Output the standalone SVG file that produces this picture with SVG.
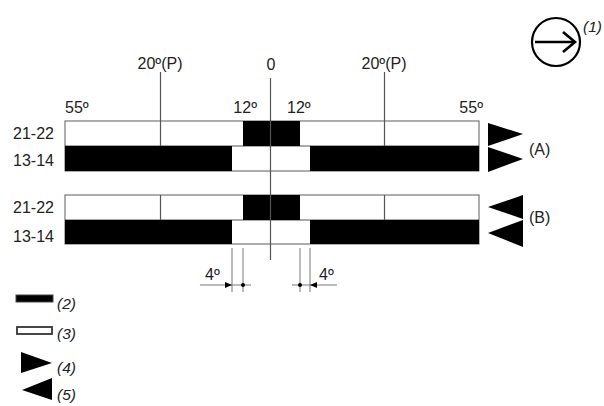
<svg xmlns="http://www.w3.org/2000/svg" width="604" height="406" viewBox="0 0 604 406">
<style>
text{font-family:"Liberation Sans",Arial,sans-serif;font-size:16px;fill:#222}
.it{font-style:italic;font-size:15.5px}
.frame{fill:#fff;stroke:#777;stroke-width:1.2}
.blk{fill:#000}
.ln{stroke:#555;stroke-width:1.2;fill:none}
.dim{stroke:#777;stroke-width:1;fill:none}
</style>
<rect width="604" height="406" fill="#fff"/>
<g id="direction">
<circle cx="556" cy="42" r="24" fill="none" stroke="#000" stroke-width="2.2"/>
<line x1="535" y1="42" x2="575" y2="42" stroke="#000" stroke-width="2.6"/>
<polyline points="563,32 575,42 563,52" fill="none" stroke="#000" stroke-width="2.6"/>
<text class="it" x="583" y="32" font-size="13">(1)</text>
</g>
<g id="bar-A">
<rect class="frame" x="65" y="121" width="414" height="50"/>
<line class="ln" x1="65" y1="146" x2="479" y2="146"/>
<rect class="blk" x="243" y="121" width="57" height="25"/>
<rect class="blk" x="65" y="146" width="167" height="25"/>
<rect class="blk" x="310" y="146" width="169" height="25"/>
<text x="13" y="139">21-22</text>
<text x="13" y="166">13-14</text>
</g>
<g id="bar-B">
<rect class="frame" x="65" y="195" width="414" height="49"/>
<line class="ln" x1="65" y1="220" x2="479" y2="220"/>
<rect class="blk" x="243" y="195" width="57" height="25"/>
<rect class="blk" x="65" y="220" width="167" height="24"/>
<rect class="blk" x="310" y="220" width="169" height="24"/>
<text x="13" y="213">21-22</text>
<text x="13" y="242">13-14</text>
</g>
<g id="scale">
<text x="160" y="69" text-anchor="middle">20º(P)</text>
<text x="271" y="70" text-anchor="middle">0</text>
<text x="384" y="69" text-anchor="middle">20º(P)</text>
<text x="65" y="113">55º</text>
<text x="257" y="113" text-anchor="end">12º</text>
<text x="287" y="113">12º</text>
<text x="483" y="113" text-anchor="end">55º</text>
</g>
<g id="connectors">
<line class="ln" x1="160.5" y1="72" x2="160.5" y2="146"/>
<line class="ln" x1="384.5" y1="72" x2="384.5" y2="146"/>
<line class="ln" x1="160.5" y1="195" x2="160.5" y2="220"/>
<line class="ln" x1="384.5" y1="195" x2="384.5" y2="220"/>
<line class="ln" x1="270.5" y1="78" x2="270.5" y2="260"/>
</g>
<g id="arrows-A">
<polygon points="488,123 523,134 488,146" fill="#000"/>
<polygon points="488,147 523,159 488,172" fill="#000"/>
<text x="529" y="155">(A)</text>
</g>
<g id="arrows-B">
<polygon points="523,195 488,207 523,219" fill="#000"/>
<polygon points="523,220 488,233 523,247" fill="#000"/>
<text x="529" y="223">(B)</text>
</g>
<g id="dim-left">
<line class="dim" x1="232" y1="248" x2="232" y2="292"/>
<line class="dim" x1="243" y1="248" x2="243" y2="292"/>
<line class="dim" x1="200" y1="285" x2="251" y2="285"/>
<polygon points="225,282 232,285 225,288" fill="#000"/>
<circle cx="243" cy="285" r="2" fill="#000"/>
<text x="205" y="280" font-size="15">4º</text>
</g>
<g id="dim-right">
<line class="dim" x1="300" y1="248" x2="300" y2="292"/>
<line class="dim" x1="310" y1="248" x2="310" y2="292"/>
<line class="dim" x1="292" y1="285" x2="337" y2="285"/>
<circle cx="300" cy="285" r="2" fill="#000"/>
<polygon points="317,282 310,285 317,288" fill="#000"/>
<text x="319" y="280" font-size="15">4º</text>
</g>
<g id="legend">
<rect x="16" y="295" width="37" height="7" fill="#000" stroke="#444"/>
<text class="it" x="57" y="309">(2)</text>
<rect x="17" y="327" width="35" height="7" fill="#fff" stroke="#333" stroke-width="1.8"/>
<text class="it" x="57" y="339">(3)</text>
<polygon points="21,352 52,363 21,373" fill="#000"/>
<text class="it" x="57" y="373">(4)</text>
<polygon points="52,378 22,390 52,400" fill="#000"/>
<text class="it" x="57" y="400">(5)</text>
</g>
</svg>
